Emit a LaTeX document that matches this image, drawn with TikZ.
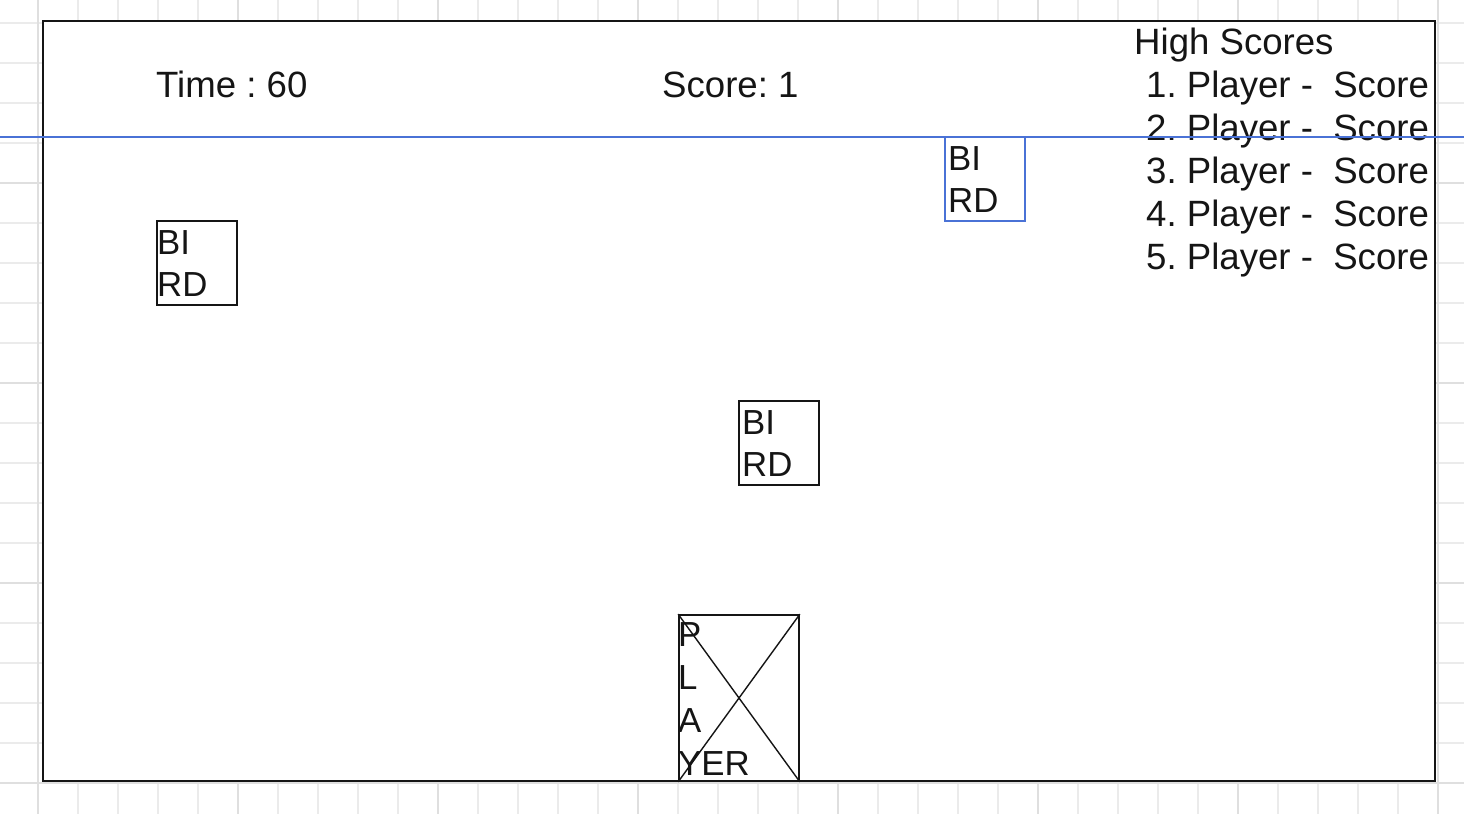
\documentclass[tikz,border=0pt]{standalone}
\usepackage{fontspec}
\setmainfont{Liberation Sans}
\frenchspacing
\definecolor{gridminor}{HTML}{EBEBEB}
\definecolor{gridmajor}{HTML}{DFDFDF}
\definecolor{selblue}{HTML}{4A72D6}
\definecolor{ink}{HTML}{151515}
\tikzset{
  minorgrid/.style={draw=gridminor, line width=1.6pt},
  majorgrid/.style={draw=gridmajor, line width=2.2pt},
  screenbox/.style={draw=ink, fill=white, line width=2pt, inner sep=0pt},
  birdbox/.style={draw=ink, line width=1.7pt, inner sep=0pt, minimum width=80pt, minimum height=84pt},
  playerbox/.style={draw=ink, line width=1.7pt, inner sep=0pt, minimum width=120pt, minimum height=166pt},
  hudtext/.style={anchor=base west, inner sep=0pt, text=ink, font=\fontsize{36.6}{43}\selectfont\frenchspacing},
  spritetext/.style={anchor=base west, inner sep=0pt, text=ink, font=\fontsize{34.8}{42}\selectfont},
  blueline/.style={draw=selblue, line width=2pt},
  crossline/.style={draw=ink, line width=1.4pt}
}
\begin{document}
\begin{tikzpicture}[x=1pt, y=-1pt]
\useasboundingbox (0,0) rectangle (1464,814);
\fill[white] (0,0) rectangle (1464,814);
% grid
\foreach \gx in {38,78,...,1438} \draw[minorgrid] (\gx,0) -- (\gx,814);
\foreach \gy in {23,63,...,783} \draw[minorgrid] (0,\gy) -- (1464,\gy);
\foreach \gx in {38,238,...,1438} \draw[majorgrid] (\gx,0) -- (\gx,814);
\foreach \gy in {183,383,583,783} \draw[majorgrid] (0,\gy) -- (1464,\gy);
% screen
\node[screenbox, minimum width=1392pt, minimum height=760pt] (screen) at (739,401) {};
% HUD texts
\node[hudtext] (time) at (156,97) {Time : 60};
\node[hudtext] (score) at (662,97) {Score: 1};
\node[hudtext] (hs) at (1134,54.5) {High Scores};
\node[hudtext] (hs1) at (1146,97.5) {1. Player -\ \ Score};
\node[hudtext] (hs2) at (1146,140.5) {2. Player -\ \ Score};
\node[hudtext] (hs3) at (1146,183.5) {3. Player -\ \ Score};
\node[hudtext] (hs4) at (1146,226.5) {4. Player -\ \ Score};
\node[hudtext] (hs5) at (1146,269.5) {5. Player -\ \ Score};
% birds
\node[birdbox] (bird1) at (197,263) {};
\node[spritetext] (bird1a) at (157,254) {BI};
\node[spritetext] (bird1b) at (157,296) {RD};
\node[birdbox, draw=selblue] (bird2) at (985,179) {};
\node[spritetext] (bird2a) at (948,170) {BI};
\node[spritetext] (bird2b) at (948,212) {RD};
\node[birdbox] (bird3) at (779,443) {};
\node[spritetext] (bird3a) at (742,434) {BI};
\node[spritetext] (bird3b) at (742,476) {RD};
% player
\node[playerbox] (player) at (739,698) {};
\draw[crossline] (player.north west) -- (player.south east);
\draw[crossline] (player.north east) -- (player.south west);
\node[spritetext] (pl1) at (678,646) {P};
\node[spritetext] (pl2) at (678,689) {L};
\node[spritetext] (pl3) at (678,732) {A};
\node[spritetext] (pl4) at (678,775) {YER};
% blue guide line
\coordinate (guideL) at (0,137);
\coordinate (guideR) at (1464,137);
\draw[blueline] (guideL) -- (guideR);
\end{tikzpicture}
\end{document}
